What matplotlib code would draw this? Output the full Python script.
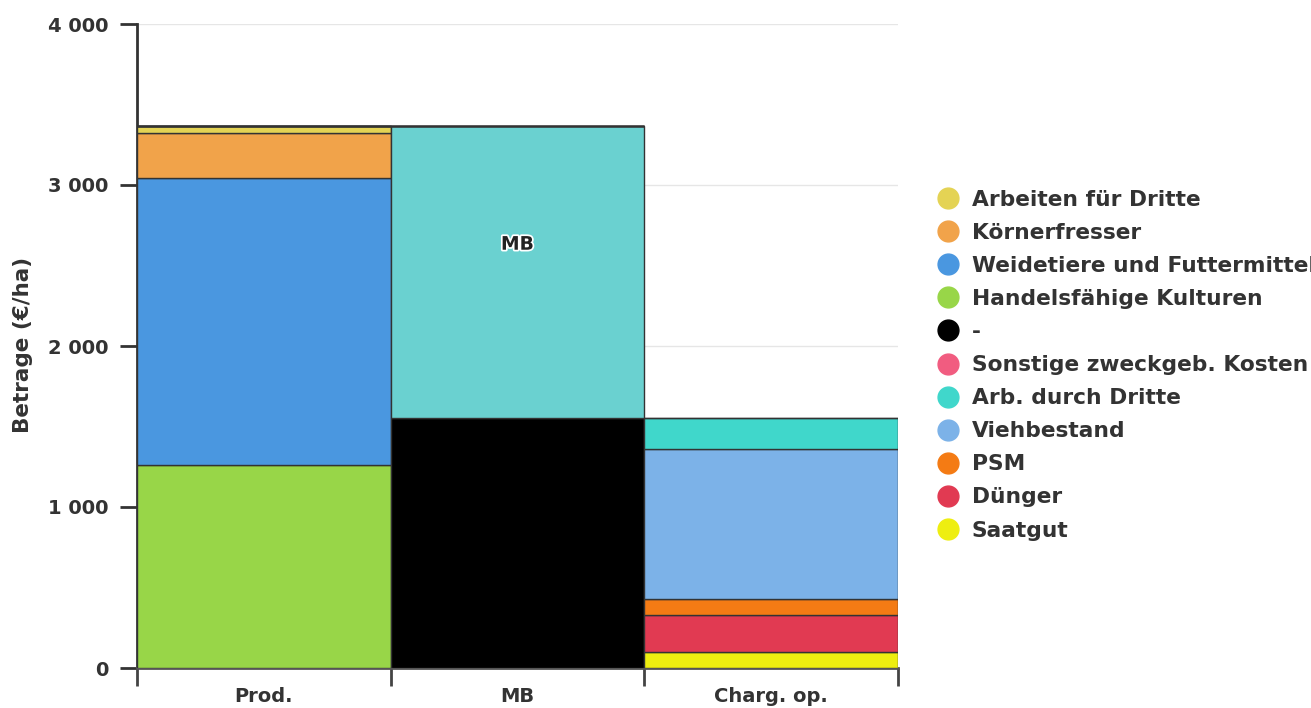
import matplotlib
matplotlib.use("Agg")
import matplotlib.pyplot as plt
import matplotlib.patheffects as pe
from matplotlib.lines import Line2D
import numpy as np

plt.rcParams['font.family'] = ['DejaVu Sans']
plt.rcParams['font.weight'] = 'bold'

categories = ["Prod.", "MB", "Charg. op."]

# series, bottom to top, values per category (€/ha)
series_names = ["Handelsfähige Kulturen", "Weidetiere und Futtermittel", "Körnerfresser",
                "Arbeiten für Dritte", "-", "MB",
                "Saatgut", "Dünger", "PSM", "Viehbestand", "Arb. durch Dritte",
                "Sonstige zweckgeb. Kosten"]
series_values = [
    [1260, 0, 0],
    [1783, 0, 0],
    [280, 0, 0],
    [43, 0, 0],
    [0, 1553, 0],
    [0, 1813, 0],
    [0, 0, 100],
    [0, 0, 230],
    [0, 0, 98],
    [0, 0, 932],
    [0, 0, 193],
    [0, 0, 0],
]
series_colors = ["#98d648", "#4a97e0", "#f1a34a", "#e4d354", "#000000", "#6ad1d0",
                 "#eeee10", "#e13a52", "#f47b14", "#7cb2e8", "#40d7cb", "#f15c80"]

legend_names = ["Arbeiten für Dritte", "Körnerfresser", "Weidetiere und Futtermittel",
                "Handelsfähige Kulturen", "-", "Sonstige zweckgeb. Kosten",
                "Arb. durch Dritte", "Viehbestand", "PSM", "Dünger", "Saatgut"]

fig = plt.figure(figsize=(13.11, 7.08), dpi=100)
ax = fig.add_axes([137/1311, 1-668/708, (898-137)/1311, (668-24)/708])

x = np.arange(len(categories))
bottom = np.zeros(len(categories))
for name, vals, col in zip(series_names, series_values, series_colors):
    vals = np.array(vals, dtype=float)
    ax.bar(x, vals, width=1.0, bottom=bottom, color=col, edgecolor="#333333",
           linewidth=1.0, zorder=3)
    if name == "MB":
        ax.annotate("MB", (1, bottom[1] + vals[1] / 2), xytext=(0, 20),
                    textcoords="offset points", ha="center", va="center",
                    fontsize=13.5, fontweight="bold", color="#222222", zorder=5,
                    path_effects=[pe.withStroke(linewidth=2.5, foreground="white")])
    bottom += vals

ax.set_xlim(-0.5, 2.5)
ax.set_ylim(0, 4000)
ax.set_yticks([0, 1000, 2000, 3000, 4000])
ax.set_yticklabels(["0", "1 000", "2 000", "3 000", "4 000"])
ax.yaxis.grid(True, color="#e6e6e6", linewidth=1, zorder=0)
ax.set_axisbelow(True)

ax.set_xticks([-0.5, 0.5, 1.5, 2.5])
ax.set_xticklabels([])
ax.set_xticks(x, minor=True)
ax.set_xticklabels(categories, minor=True)
ax.tick_params(axis="x", which="minor", length=0, pad=14, labelsize=14, labelcolor="#333333")
ax.tick_params(axis="x", which="major", length=13, width=2, color="#444444", direction="out")
ax.tick_params(axis="y", length=12.5, width=2, color="#333333", labelsize=14,
               labelcolor="#333333", pad=8)

for s in ["top", "right"]:
    ax.spines[s].set_visible(False)
ax.spines["left"].set_color("#333333")
ax.spines["left"].set_linewidth(2)
ax.spines["bottom"].set_color("#555555")
ax.spines["bottom"].set_linewidth(2)

fig.text(23/1311, 1-345/708, "Betrage (€/ha)", rotation=90, ha="center", va="center",
         fontsize=15.5, fontweight="bold", color="#333333")

color_map = dict(zip(series_names, series_colors))
handles = [Line2D([0], [0], marker="o", linestyle="none", markersize=15,
                  markerfacecolor=color_map[n], markeredgecolor=color_map[n])
           for n in legend_names]
leg = fig.legend(handles, legend_names, loc="upper left",
                 bbox_to_anchor=(926/1311, 1-181/708), frameon=False,
                 fontsize=15.7, labelspacing=0.6, handletextpad=0.5,
                 handlelength=1.2, borderaxespad=0)
for t in leg.get_texts():
    t.set_color("#333333")

fig.savefig("out.png", dpi=100)
